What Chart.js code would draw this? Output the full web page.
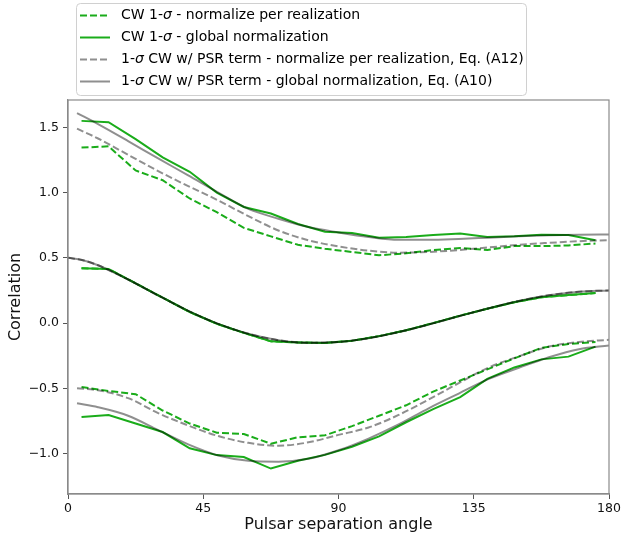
<!DOCTYPE html>
<html>
<head>
<meta charset="utf-8">
<script src="https://cdn.jsdelivr.net/npm/chart.js@4.4.1/dist/chart.umd.min.js"></script>
<style>
  html, body { margin: 0; padding: 0; background: #fff; }
  canvas { display: block; }
</style>
</head>
<body>
<canvas id="c" width="623" height="535"></canvas>
<script>
// Pulsar separation angles (degrees)
const binAngles = [4.5, 13.5, 22.5, 31.5, 40.5, 49.5, 58.5, 67.5, 76.5, 85.5,
                   94.5, 103.5, 112.5, 121.5, 130.5, 139.5, 148.5, 157.5, 166.5, 175.5];
const curveAngles = [3, 10, 20, 30, 40, 50, 60, 70, 80, 90, 100, 110, 120, 130, 140, 150, 160, 170, 180];
const meanAngles = [0, 5, 10, 20, 30, 40, 50, 60, 70, 80, 90, 100, 110, 120, 130, 140, 150, 160, 170, 180];

// CW 1-sigma band, normalized per realization
const cwPerRealUpper = [1.345, 1.355, 1.17, 1.095, 0.955, 0.85, 0.73, 0.665, 0.60, 0.57,
                        0.545, 0.52, 0.535, 0.56, 0.575, 0.56, 0.59, 0.59, 0.595, 0.61];
const cwPerRealLower = [-0.49, -0.52, -0.545, -0.67, -0.77, -0.84, -0.85, -0.925, -0.875, -0.86,
                        -0.79, -0.71, -0.63, -0.525, -0.44, -0.355, -0.27, -0.19, -0.16, -0.145];
// CW 1-sigma band, global normalization
const cwGlobalUpper = [1.55, 1.54, 1.41, 1.27, 1.16, 1.0, 0.89, 0.84, 0.76, 0.70,
                       0.69, 0.655, 0.66, 0.675, 0.687, 0.66, 0.665, 0.678, 0.675, 0.635];
const cwGlobalLower = [-0.72, -0.705, -0.77, -0.835, -0.96, -1.012, -1.027, -1.115, -1.055, -1.01,
                       -0.948, -0.868, -0.76, -0.66, -0.568, -0.428, -0.34, -0.278, -0.257, -0.18];
// CW mean correlation
const cwMean = [0.42, 0.415, 0.305, 0.195, 0.085, -0.005, -0.075, -0.14, -0.148, -0.152,
                -0.135, -0.10, -0.055, 0.0, 0.057, 0.11, 0.16, 0.198, 0.215, 0.23];

// Analytic curves with pulsar term
const a12Upper = [1.49, 1.415, 1.29, 1.165, 1.05, 0.94, 0.82, 0.71, 0.635, 0.588,
                  0.555, 0.54, 0.545, 0.56, 0.58, 0.60, 0.615, 0.628, 0.636];
const a12Lower = [-0.50, -0.515, -0.575, -0.69, -0.785, -0.866, -0.918, -0.94, -0.914, -0.857,
                  -0.80, -0.704, -0.586, -0.46, -0.34, -0.255, -0.18, -0.145, -0.128];
const a10Upper = [1.61, 1.525, 1.395, 1.262, 1.132, 1.0, 0.875, 0.80, 0.736, 0.695,
                  0.66, 0.638, 0.638, 0.645, 0.655, 0.665, 0.673, 0.678, 0.68];
const a10Lower = [-0.615, -0.645, -0.71, -0.82, -0.93, -1.015, -1.055, -1.062, -1.04, -0.975,
                  -0.885, -0.777, -0.653, -0.54, -0.428, -0.343, -0.262, -0.2, -0.172];
const analyticMean = [0.50, 0.482, 0.443, 0.334, 0.212, 0.094, -0.006, -0.082, -0.131, -0.151,
                      -0.145, -0.116, -0.069, -0.011, 0.052, 0.114, 0.17, 0.213, 0.241, 0.25];

const xTicks = [0, 45, 90, 135, 180];
const yTicks = [-1.0, -0.5, 0.0, 0.5, 1.0, 1.5];
const yTickLabels = ['\u22121.0', '\u22120.5', '0.0', '0.5', '1.0', '1.5'];

const legendLabels = [
  ['CW 1-', 'σ', ' - normalize per realization'],
  ['CW 1-', 'σ', ' - global normalization'],
  ['1-', 'σ', ' CW w/ PSR term - normalize per realization, Eq. (A12)'],
  ['1-', 'σ', ' CW w/ PSR term - global normalization, Eq. (A10)']
];

const GREEN = 'rgb(26,172,26)';
const GRAY = 'rgba(0,0,0,0.44)';
const DASH = [7, 3];
const FONT = "'DejaVu Sans', sans-serif";

const styles = [
  { color: GREEN, dash: DASH },
  { color: GREEN, dash: [] },
  { color: GRAY, dash: DASH },
  { color: GRAY, dash: [] }
];

function pts(xs, ys) { return xs.map((x, i) => ({ x: x, y: ys[i] })); }

function ds(xs, ys, style, smooth, order) {
  return {
    data: pts(xs, ys),
    borderColor: style.color,
    borderDash: style.dash,
    borderWidth: 2,
    pointRadius: 0,
    fill: false,
    tension: 0,
    cubicInterpolationMode: smooth ? 'monotone' : 'default',
    order: order
  };
}

const datasets = [
  ds(curveAngles, a12Upper, styles[2], true, 0),
  ds(meanAngles, analyticMean, styles[2], true, 0),
  ds(curveAngles, a12Lower, styles[2], true, 0),
  ds(curveAngles, a10Upper, styles[3], true, 0),
  ds(meanAngles, analyticMean, styles[3], true, 0),
  ds(curveAngles, a10Lower, styles[3], true, 0),
  ds(binAngles, cwPerRealUpper, styles[0], false, 1),
  ds(binAngles, cwMean, styles[0], false, 1),
  ds(binAngles, cwPerRealLower, styles[0], false, 1),
  ds(binAngles, cwGlobalUpper, styles[1], false, 1),
  ds(binAngles, cwMean, styles[1], false, 1),
  ds(binAngles, cwGlobalLower, styles[1], false, 1)
];

// Box frame around the plotting area
const framePlugin = {
  id: 'frame',
  afterDatasetsDraw(chart) {
    const { ctx, chartArea: a } = chart;
    ctx.save();
    ctx.strokeStyle = '#8a8a8a';
    ctx.lineWidth = 1.2;
    ctx.strokeRect(a.left, a.top, a.right - a.left, a.bottom - a.top);
    ctx.restore();
  }
};

// Legend box above the axes
const legendPlugin = {
  id: 'boxLegend',
  afterDraw(chart) {
    const ctx = chart.ctx;
    ctx.save();
    const bx = 76.5, by = 3.5, bw = 450, bh = 92, r = 4;
    ctx.beginPath();
    ctx.moveTo(bx + r, by);
    ctx.arcTo(bx + bw, by, bx + bw, by + bh, r);
    ctx.arcTo(bx + bw, by + bh, bx, by + bh, r);
    ctx.arcTo(bx, by + bh, bx, by, r);
    ctx.arcTo(bx, by, bx + bw, by, r);
    ctx.closePath();
    ctx.fillStyle = 'rgba(255,255,255,0.8)';
    ctx.fill();
    ctx.strokeStyle = '#d0d0d0';
    ctx.lineWidth = 1;
    ctx.stroke();

    const rowY = [15.5, 37.5, 59.5, 81.5];
    legendLabels.forEach((parts, i) => {
      const y = rowY[i];
      const s = styles[i];
      ctx.beginPath();
      ctx.setLineDash(s.dash);
      ctx.strokeStyle = s.color;
      ctx.lineWidth = 2;
      ctx.moveTo(80, y);
      ctx.lineTo(110, y);
      ctx.stroke();
      ctx.setLineDash([]);

      ctx.fillStyle = '#000';
      ctx.textBaseline = 'middle';
      let x = 121;
      parts.forEach((p, j) => {
        ctx.font = (j === 1 ? 'italic ' : '') + '14px ' + FONT;
        ctx.fillText(p, x, y);
        x += ctx.measureText(p).width;
      });
    });
    ctx.restore();
  }
};

new Chart(document.getElementById('c'), {
  type: 'line',
  data: { datasets: datasets },
  plugins: [framePlugin, legendPlugin],
  options: {
    responsive: false,
    animation: false,
    events: [],
    layout: { padding: { top: 100, right: 14, bottom: 0, left: 0 } },
    plugins: { legend: { display: false }, tooltip: { enabled: false } },
    scales: {
      x: {
        type: 'linear',
        min: 0,
        max: 180,
        afterBuildTicks(scale) { scale.ticks = xTicks.map(v => ({ value: v })); },
        afterFit(scale) { scale.height = 41; },
        ticks: {
          color: '#111',
          font: { family: FONT, size: 12.5 },
          padding: 2,
          maxRotation: 0,
          callback: v => String(v)
        },
        grid: { display: true, drawOnChartArea: false, drawTicks: true, tickLength: 5, tickColor: '#555', tickWidth: 1 },
        border: { display: true, color: '#8a8a8a', width: 1.2 },
        title: {
          display: true,
          text: 'Pulsar separation angle',
          color: '#111',
          font: { family: FONT, size: 16 },
          padding: { top: 0, bottom: 1 }
        }
      },
      y: {
        type: 'linear',
        min: -1.31,
        max: 1.71,
        afterBuildTicks(scale) { scale.ticks = yTicks.map(v => ({ value: v })); },
        afterFit(scale) { scale.width = 68; },
        ticks: {
          color: '#111',
          font: { family: FONT, size: 12.5 },
          padding: 4,
          callback: (v) => {
            const k = yTicks.findIndex(t => Math.abs(t - v) < 1e-9);
            return k >= 0 ? yTickLabels[k] : '';
          }
        },
        grid: { display: true, drawOnChartArea: false, drawTicks: true, tickLength: 5, tickColor: '#555', tickWidth: 1 },
        border: { display: true, color: '#8a8a8a', width: 1.2 },
        title: {
          display: true,
          text: 'Correlation',
          color: '#111',
          font: { family: FONT, size: 16 },
          padding: { top: 6, bottom: 0 }
        }
      }
    }
  }
});
</script>
</body>
</html>
